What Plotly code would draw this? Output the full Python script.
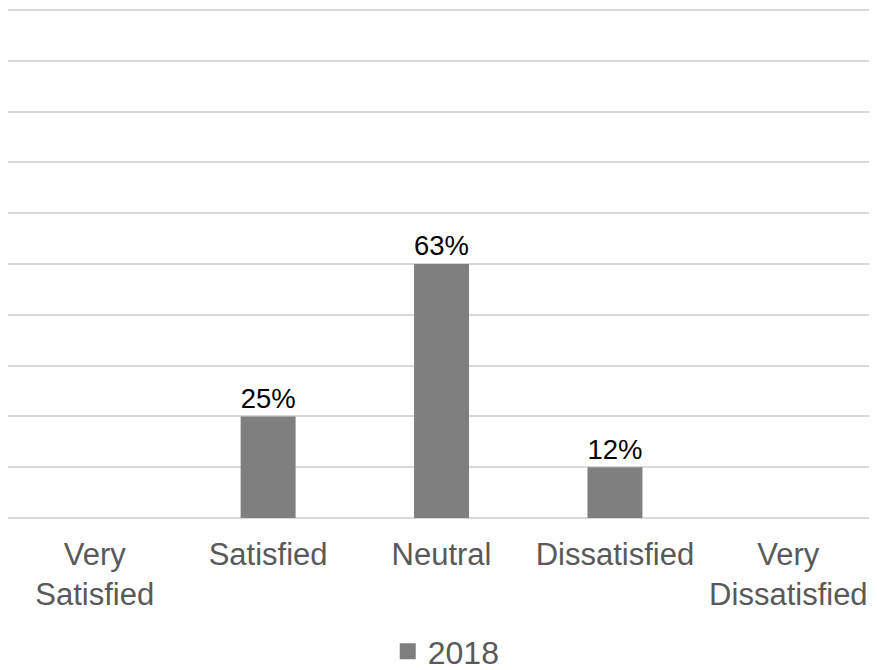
import plotly.graph_objects as go

categories = ["Very<br>Satisfied", "Satisfied", "Neutral", "Dissatisfied", "Very<br>Dissatisfied"]
counts = [0, 2, 5, 1, 0]
pct_labels = ["", "25%", "63%", "12%", ""]
series_name = "2018"

FONT = "Arial, Liberation Sans, sans-serif"
BAR_COLOR = "#7f7f7f"
x_idx = list(range(len(categories)))

fig = go.Figure()
fig.add_trace(go.Bar(
    x=x_idx, y=counts, name=series_name,
    marker=dict(color=BAR_COLOR, line=dict(width=0)),
    width=0.317,
    text=pct_labels, textposition="outside",
    textfont=dict(family=FONT, size=29, color="#000000"),
    cliponaxis=False,
    showlegend=False,
))
# legend entry with a larger square swatch
fig.add_trace(go.Scatter(
    x=[None], y=[None], mode="markers", name=series_name,
    marker=dict(symbol="square", size=16, color=BAR_COLOR),
    showlegend=True,
))

fig.update_layout(
    width=861, height=662,
    margin=dict(l=0, r=0, t=0, b=151.5, autoexpand=False),
    paper_bgcolor="white", plot_bgcolor="white",
    font=dict(family=FONT, color="#595959"),
    showlegend=True,
    legend=dict(orientation="h", x=0.509, xanchor="center", y=-0.2615, yanchor="middle",
                font=dict(size=32, color="#595959", family=FONT),
                itemwidth=30, tracegroupgap=0, bgcolor="rgba(0,0,0,0)"),
    xaxis=dict(
        tickmode="array", tickvals=x_idx, ticktext=categories,
        range=[-0.5, 4.465], showgrid=False, zeroline=False, showline=False,
        ticks="", tickfont=dict(size=31, color="#595959", family=FONT),
        automargin=False, ticklabelstandoff=15, ticklabeloverflow="allow",
    ),
    yaxis=dict(
        range=[0, 10.04], tickmode="array", tickvals=list(range(0, 11)),
        showticklabels=False, ticks="",
        showgrid=True, gridcolor="#d9d9d9", gridwidth=1.5,
        zeroline=True, zerolinecolor="#d9d9d9", zerolinewidth=1.5, showline=False,
        automargin=False,
    ),
    bargap=0.686,
)

fig.write_html("out.html")
